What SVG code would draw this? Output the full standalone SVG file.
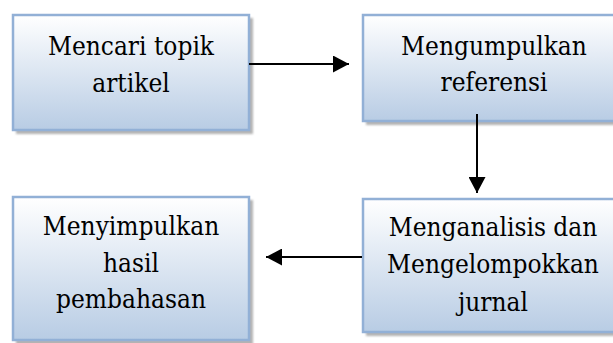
<svg xmlns="http://www.w3.org/2000/svg" width="613" height="343" viewBox="0 0 613 343">
<style>
.box{fill:url(#g);stroke:#92b0d6;stroke-width:2.5}
.sh{fill:#9a9a9a;opacity:0.75}
text{font-family:'DejaVu Serif Condensed','DejaVu Serif',serif;font-stretch:condensed;font-size:26px;fill:#000;text-anchor:middle}
.c{stroke:#000;stroke-width:2;fill:none}
</style>
<defs>
<linearGradient id="g" x1="0" y1="0" x2="0" y2="1">
<stop offset="0" stop-color="#ffffff"/>
<stop offset="1" stop-color="#b8cce4"/>
</linearGradient>
<filter id="b" x="-5%" y="-5%" width="110%" height="110%"><feGaussianBlur stdDeviation="1"/></filter>
<marker id="ah" markerWidth="17" markerHeight="17" refX="16" refY="8.5" orient="auto" markerUnits="userSpaceOnUse">
<path d="M0,0 L16,8.5 L0,17 Z" fill="#000"/>
</marker>
</defs>
<g id="node1">
<rect class="sh" x="16" y="18" width="237" height="116" filter="url(#b)"/>
<rect class="box" x="13" y="15" width="236" height="115"/>
<text x="131" y="55">Mencari topik</text>
<text x="131" y="92">artikel</text>
</g>
<g id="node2">
<rect class="sh" x="366" y="18" width="264" height="107" filter="url(#b)"/>
<rect class="box" x="363" y="15" width="263" height="106"/>
<text x="494" y="55">Mengumpulkan</text>
<text x="494" y="91">referensi</text>
</g>
<g id="node3">
<rect class="sh" x="16" y="200" width="237" height="146" filter="url(#b)"/>
<rect class="box" x="13" y="197" width="236" height="143"/>
<text x="131" y="235">Menyimpulkan</text>
<text x="131" y="272">hasil</text>
<text x="131" y="308">pembahasan</text>
</g>
<g id="node4">
<rect class="sh" x="366" y="202" width="264" height="134" filter="url(#b)"/>
<rect class="box" x="363" y="199" width="262" height="133"/>
<text x="493" y="236">Menganalisis dan</text>
<text x="493" y="273">Mengelompokkan</text>
<text x="493" y="311">jurnal</text>
</g>
<g id="connectors">
<line class="c" x1="249" y1="64" x2="349" y2="64" marker-end="url(#ah)"/>
<line class="c" x1="477" y1="114" x2="477" y2="193" marker-end="url(#ah)"/>
<line class="c" x1="362" y1="257" x2="266" y2="257" marker-end="url(#ah)"/>
</g>
</svg>
